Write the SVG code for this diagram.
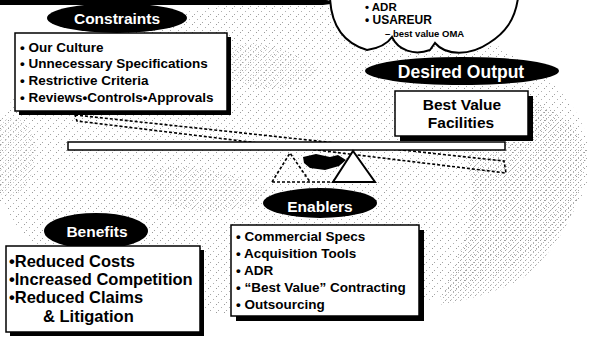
<svg xmlns="http://www.w3.org/2000/svg" width="589" height="339" viewBox="0 0 589 339">
<defs>
<style>
.t{font-family:"Liberation Sans",Arial,sans-serif;font-weight:bold;fill:#000}
.w{font-family:"Liberation Sans",Arial,sans-serif;font-weight:bold;fill:#fff}
.box{fill:#fff;stroke:#000;stroke-width:1.5}
.sh{fill:#000}
.ov{fill:#000}
.dash{fill:none;stroke:#000;stroke-width:1.6;stroke-dasharray:3 2}
</style>
<pattern id="st" width="8" height="8" patternUnits="userSpaceOnUse">
<rect x="0" y="0" width="1" height="1" fill="#9a9a9a"/>
<rect x="5" y="3" width="1" height="1" fill="#b0b0b0"/>
<rect x="2" y="6" width="1" height="1" fill="#a5a5a5"/>
</pattern>
<pattern id="st2" width="5" height="5" patternUnits="userSpaceOnUse">
<rect x="0" y="0" width="1" height="1" fill="#808080"/>
<rect x="3" y="2" width="1" height="1" fill="#909090"/>
<rect x="1" y="4" width="1" height="1" fill="#b0b0b0"/>
</pattern>
</defs>
<rect width="589" height="339" fill="#fff"/>
<g id="globe">
<ellipse cx="290" cy="160" rx="300" ry="158" fill="url(#st)"/>
<path d="M470,95 C520,90 575,110 586,150 C585,200 560,250 520,280 C500,290 470,300 440,305 C450,270 470,240 470,210 C480,180 455,150 470,95 Z" fill="url(#st2)" opacity="0.7"/>
<path d="M150,170 C190,160 240,175 270,190 C250,215 200,215 170,205 C150,195 140,180 150,170 Z" fill="url(#st2)" opacity="0.5"/>
<path d="M240,45 C270,40 300,55 320,70 C300,90 260,95 235,80 C225,65 228,50 240,45 Z" fill="url(#st2)" opacity="0.45"/>
<path d="M0,120 C20,110 40,130 35,160 C30,190 15,200 0,195 Z" fill="url(#st2)" opacity="0.45"/>
</g>
<g id="cloud">
<path d="M0,0 H326 Q331,0 331,4 L323,5 H0 Z" fill="#000"/>
<path d="M330,-2 C331,20 340,42 367,50 C380,48 388,43 392,37 C398,50 414,56 430,50 L435,43 C446,56 470,56 489,43 C505,33 515,20 518,-2 Z" fill="#fff" stroke="#000" stroke-width="2"/>
<text class="t" x="365" y="11" font-size="11.5">•  ADR</text>
<text class="t" x="365" y="24" font-size="12">•  USAREUR</text>
<text class="t" x="385" y="37" font-size="9.5">–  best value OMA</text>
</g>
<g id="connectors">
<path class="dash" d="M75,115 L504,161 L506,173 L77,121 Z"/>
<path class="dash" d="M272,182 L290,153 L310,182 M272,182 L333,182"/>
</g>
<g id="seesaw">
<rect x="68" y="142" width="437" height="8" fill="#fff" stroke="#000" stroke-width="1.5"/>
<path d="M303,157 L316,154 L330,157 L338,155 L346,160 L339,166 L325,170 L310,168 L304,163 Z" fill="#000"/>
<path d="M353,151 L333,182 L375,182 Z" fill="#fff" stroke="#000" stroke-width="2"/>
</g>
<g id="constraints">
<rect class="sh" x="19" y="37" width="212" height="78"/>
<rect class="box" x="15" y="33" width="212" height="78"/>
<ellipse class="ov" cx="117" cy="18" rx="70" ry="15"/>
<text class="w" x="117" y="24" font-size="15.5" text-anchor="middle">Constraints</text>
<text class="t" x="20" y="52" font-size="13.5">• Our Culture</text>
<text class="t" x="20" y="68" font-size="13.5">• Unnecessary Specifications</text>
<text class="t" x="20" y="85" font-size="13.5">• Restrictive Criteria</text>
<text class="t" x="20" y="102" font-size="13.5">• Reviews•Controls•Approvals</text>
</g>
<g id="desired-output">
<ellipse class="ov" cx="462" cy="71" rx="97" ry="14"/>
<text class="w" x="461" y="78" font-size="17.5" text-anchor="middle">Desired Output</text>
<rect class="sh" x="400" y="96" width="133" height="45"/>
<rect class="box" x="395" y="91" width="133" height="45"/>
<text class="t" x="462" y="110" font-size="15.5" text-anchor="middle">Best Value</text>
<text class="t" x="461" y="128" font-size="15.5" text-anchor="middle">Facilities</text>
</g>
<g id="enablers">
<ellipse class="ov" cx="320" cy="203" rx="57" ry="15"/>
<text class="w" x="320" y="212" font-size="15.5" text-anchor="middle">Enablers</text>
<rect class="sh" x="236" y="230" width="188" height="91"/>
<rect class="box" x="231" y="225" width="188" height="91"/>
<text class="t" x="236" y="241" font-size="13.5">• Commercial Specs</text>
<text class="t" x="236" y="258" font-size="13.5">• Acquisition Tools</text>
<text class="t" x="236" y="275" font-size="13.5">• ADR</text>
<text class="t" x="236" y="292" font-size="13.5">• “Best Value” Contracting</text>
<text class="t" x="236" y="309" font-size="13.5">• Outsourcing</text>
</g>
<g id="benefits">
<ellipse class="ov" cx="96" cy="231" rx="52" ry="18"/>
<text class="w" x="97" y="237" font-size="15.5" text-anchor="middle">Benefits</text>
<rect class="sh" x="10" y="250" width="194" height="86"/>
<rect class="box" x="6" y="246" width="194" height="86"/>
<text class="t" x="9" y="267" font-size="16.5">•Reduced Costs</text>
<text class="t" x="9" y="285" font-size="16.5">•Increased Competition</text>
<text class="t" x="9" y="303" font-size="16.5">•Reduced Claims</text>
<text class="t" x="43" y="322" font-size="16.5">&amp; Litigation</text>
</g>
</svg>
